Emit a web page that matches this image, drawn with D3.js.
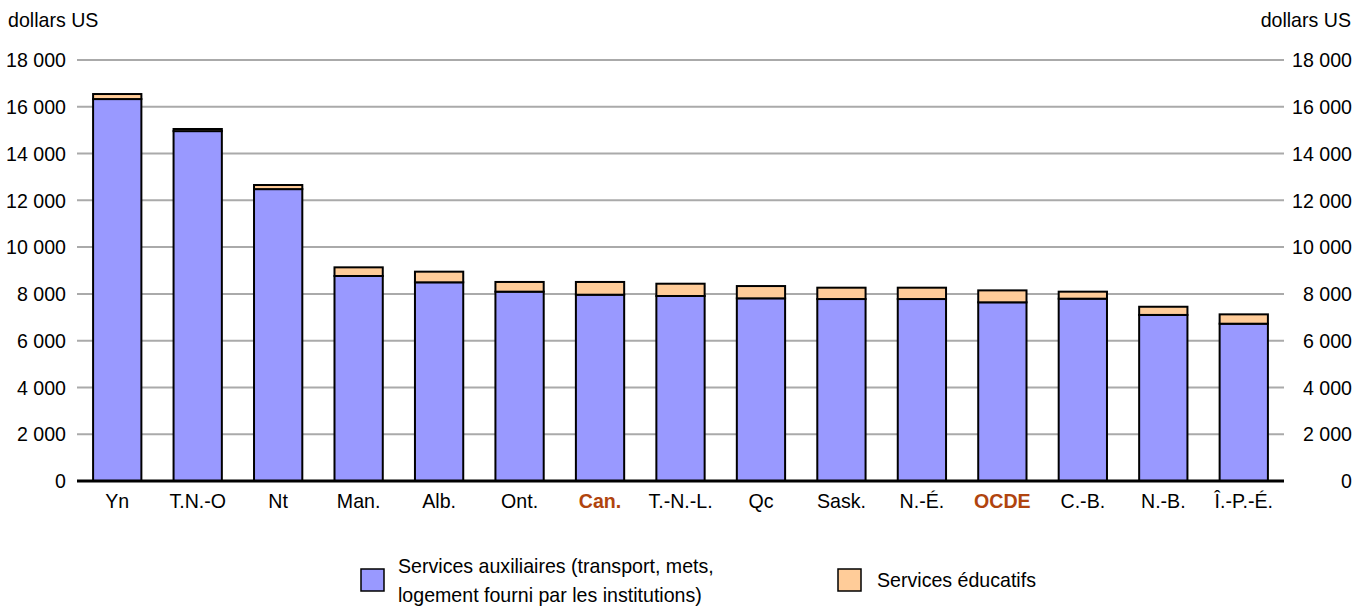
<!DOCTYPE html>
<html><head><meta charset="utf-8">
<script src="https://cdn.jsdelivr.net/npm/d3@7"></script>
<style>
body{margin:0;background:#fff;}
text{font-family:"Liberation Sans",Arial,sans-serif;}
</style></head><body>
<svg id="c" width="1369" height="607"></svg>
<script>
const categories = ["Yn","T.N.-O","Nt","Man.","Alb.","Ont.","Can.","T.-N.-L.","Qc","Sask.","N.-É.","OCDE","C.-B.","N.-B.","Î.-P.-É."];
const auxiliaires = [16330,14960,12480,8765,8495,8095,7965,7910,7810,7780,7780,7640,7795,7100,6725];
const educatifs   = [215,90,175,370,455,415,545,525,525,485,485,510,300,350,400];
const highlighted = ["Can.","OCDE"];
const yTicks = [0,2000,4000,6000,8000,10000,12000,14000,16000,18000];
const seriesNames = ["Services auxiliaires (transport, mets,|logement fourni par les institutions)","Services éducatifs"];
const colors = ["#9999ff","#ffcc99"];

const FS = 21;
const svg = d3.select("#c");

// condensed look: measure a reference string and derive horizontal squeeze
const probe = svg.append("text").attr("font-size",FS).text("Services auxiliaires (transport, mets,");
const SX = 316 / probe.node().getComputedTextLength();
probe.remove();
const squeeze = sel => sel.attr("transform", function(){
  const t = d3.select(this);
  const px = +t.attr("x")||0;
  t.attr("x",0);
  return `translate(${px},0) scale(${SX},1)`;
});

const x = d3.scaleBand().domain(categories).range([77,1284]).paddingInner(0.4).paddingOuter(0.2);
const y = d3.scaleLinear().domain([0,18000]).range([481,60]);
const fmt = v => d3.format(",")(v).replace(/,/g," ");

// gridlines
svg.append("g").selectAll("line").data(yTicks.filter(d=>d>0)).join("line")
  .attr("x1",77).attr("x2",1284).attr("y1",d=>y(d)).attr("y2",d=>y(d))
  .attr("stroke","#aaaaaa").attr("stroke-width",2);

// axis labels
[66,1352].forEach(px=>{
  const ya = svg.append("g").attr("transform",`translate(${px},0)`)
    .call(d3.axisLeft(y).tickValues(yTicks).tickSize(0).tickPadding(0).tickFormat(fmt));
  ya.select(".domain").remove();
  ya.selectAll("text").attr("font-size",FS).attr("fill","#000").attr("font-family",null).call(squeeze);
});

svg.append("text").attr("x",8).attr("y",27).attr("font-size",FS).text("dollars US").call(squeeze);
svg.append("text").attr("x",1351).attr("y",27).attr("font-size",FS).attr("text-anchor","end").text("dollars US").call(squeeze);

// bars
const data = categories.map((c,i)=>({c,a:auxiliaires[i],e:educatifs[i]}));
const g = svg.append("g");
g.selectAll("rect.a").data(data).join("rect").attr("class","a")
  .attr("x",d=>x(d.c)).attr("width",x.bandwidth())
  .attr("y",d=>y(d.a)).attr("height",d=>y(0)-y(d.a))
  .attr("fill",colors[0]).attr("stroke","#000").attr("stroke-width",2);
g.selectAll("rect.e").data(data).join("rect").attr("class","e")
  .attr("x",d=>x(d.c)).attr("width",x.bandwidth())
  .attr("y",d=>y(d.a+d.e)).attr("height",d=>y(d.a)-y(d.a+d.e))
  .attr("fill",colors[1]).attr("stroke","#000").attr("stroke-width",2);

// x axis
svg.append("line").attr("x1",77).attr("x2",1284).attr("y1",y(0)).attr("y2",y(0))
  .attr("stroke","#000").attr("stroke-width",3);
const xa = svg.append("g").attr("transform",`translate(0,${y(0)})`)
  .call(d3.axisBottom(x).tickSize(0).tickPadding(12));
xa.select(".domain").remove();
xa.selectAll("text").attr("font-size",FS).attr("font-family",null)
  .attr("fill",d=>highlighted.includes(d)?"#b0440e":"#000")
  .attr("font-weight",d=>highlighted.includes(d)?"bold":"normal")
  .call(squeeze);

// legend
const leg = [{x:361,tx:398,name:seriesNames[0],col:colors[0]},{x:838,tx:877,name:seriesNames[1],col:colors[1]}];
leg.forEach(l=>{
  svg.append("rect").attr("x",l.x).attr("y",569).attr("width",23).attr("height",22)
    .attr("fill",l.col).attr("stroke","#000").attr("stroke-width",1.5);
  l.name.split("|").forEach((s,i,arr)=>{
    svg.append("text").attr("font-size",FS).attr("x",l.tx)
      .attr("y", arr.length===1 ? 587 : 573+i*29).text(s).call(squeeze);
  });
});
</script></body></html>
